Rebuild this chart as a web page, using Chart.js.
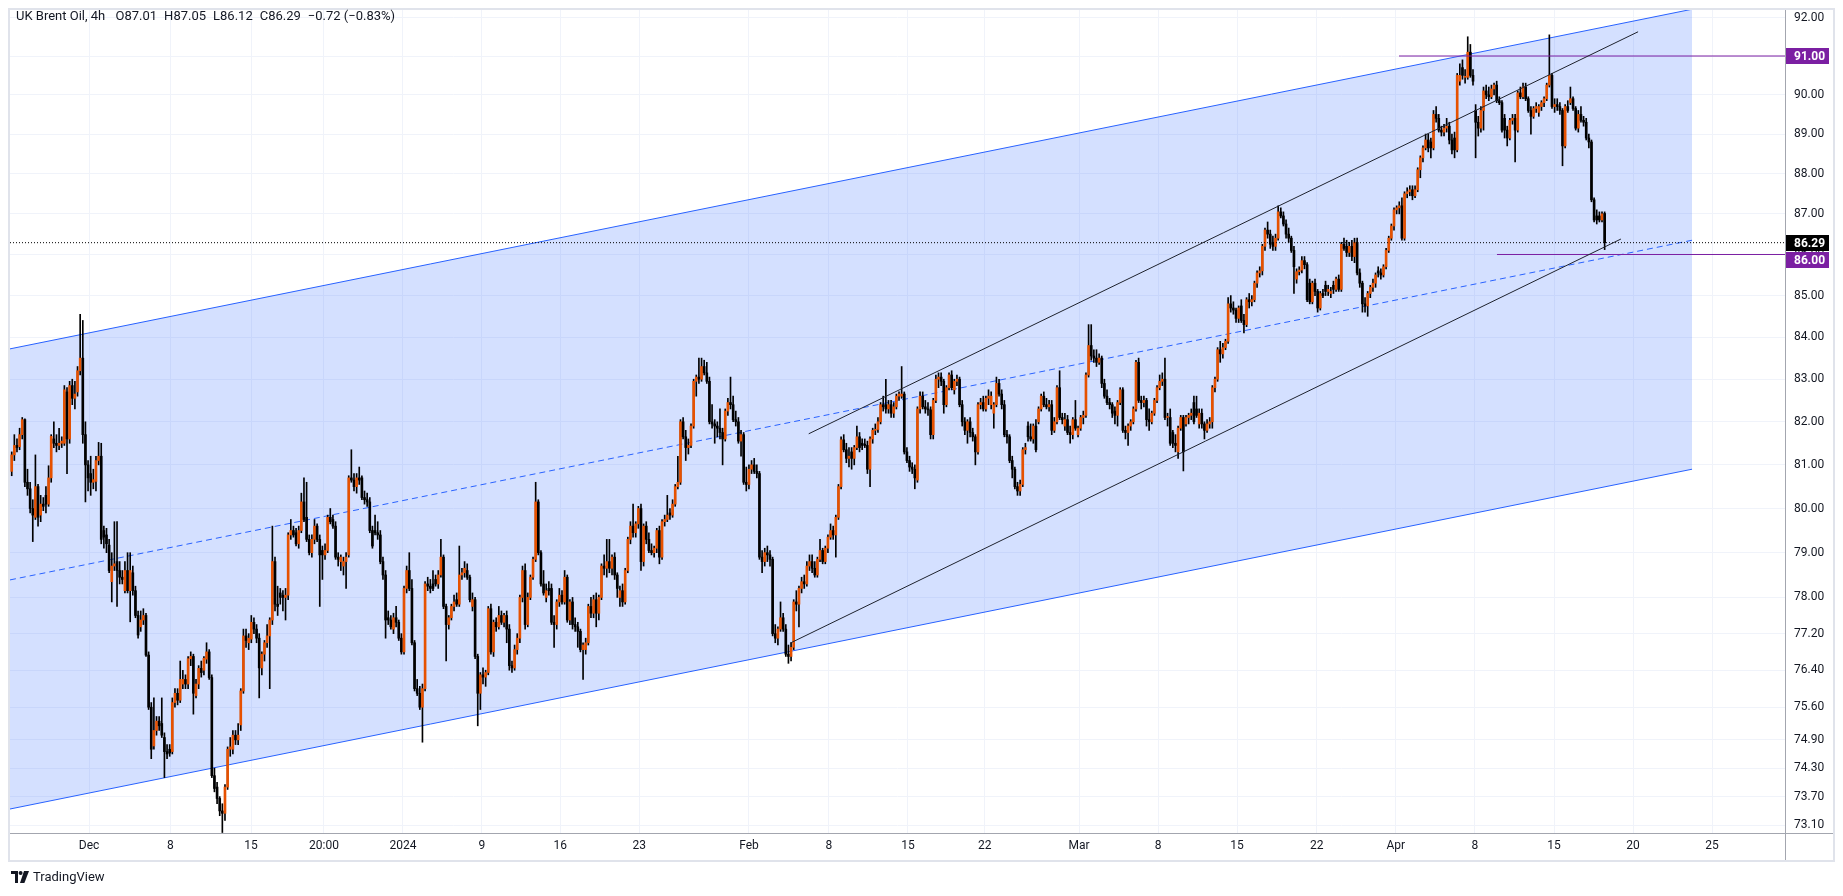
<!DOCTYPE html>
<html>
<head>
<meta charset="utf-8">
<title>UK Brent Oil, 4h</title>
<script src="https://cdn.jsdelivr.net/npm/chart.js@4.4.1/dist/chart.umd.min.js"></script>
<style>
  html, body { margin: 0; padding: 0; background: #fff; }
  #wrap { position: relative; width: 1843px; height: 896px; overflow: hidden; }
  #legend { position: absolute; left: 16px; top: 8px; font: 13px Roboto, sans-serif; color: #131722; white-space: nowrap; }
  #legend span { margin-right: 7px; }
  #brand { position: absolute; left: 11px; top: 869px; font: 13px Roboto, sans-serif; color: #131722; display: flex; align-items: center; gap: 4px; }
</style>
</head>
<body>
<div id="wrap">
  <canvas id="chart" width="1843" height="896"></canvas>
  <div id="legend"><span>UK Brent Oil, 4h</span> <span>O87.01</span><span>H87.05</span><span>L86.12</span><span>C86.29</span><span>−0.72 (−0.83%)</span></div>
  <div id="brand"><svg width="18" height="12" viewBox="0 0 18 12"><path d="M0 0h7v12H4V3H0z" fill="#131722"/><circle cx="9.6" cy="2" r="2" fill="#131722"/><path d="M13 0h5l-4.6 12H9z" fill="#131722"/></svg><span>TradingView</span></div>
</div>
<script>
// 4h bars, [open, high, low, close]
const barsNovDec = [
  [80.85,81.30,80.75,81.23],[81.23,81.70,81.10,81.45],[81.45,81.60,81.30,81.40],[81.42,81.85,81.35,81.70],[81.70,82.10,81.60,82.05],[82.05,82.07,80.50,80.60],
  [80.60,80.90,80.30,80.45],[80.45,80.60,79.90,80.00],[80.00,80.20,79.25,79.85],[79.80,81.23,79.75,80.50],[80.50,80.55,79.60,79.80],[79.85,80.30,79.70,80.10],
  [80.10,80.25,79.95,80.05],[80.30,80.50,79.90,80.10],[80.10,80.98,80.05,80.70],[80.70,81.70,80.60,81.66],[81.60,82.00,81.40,81.50],[81.50,81.70,81.30,81.45],
  [81.45,81.85,81.35,81.50],[81.50,81.65,81.40,81.55],[81.50,82.85,81.45,82.75],[82.70,82.80,80.80,81.60],[81.60,82.95,81.50,82.85],[82.85,83.00,82.40,82.55],
  [82.55,82.95,82.30,82.65],[82.70,83.30,82.60,83.20],[83.20,84.55,83.10,83.50],[83.50,84.40,81.50,81.70],[81.70,82.00,80.15,81.00],[81.00,81.10,80.40,80.70],
  [80.80,81.20,80.30,80.60],[80.60,80.90,80.45,80.66],[80.62,81.20,80.40,81.10],[81.10,81.52,81.00,81.20],[81.20,81.50,79.20,79.30],[79.50,79.60,79.10,79.35],
  [79.40,79.55,79.00,79.20],[79.17,79.30,78.55,78.60],[78.35,79.00,77.90,78.70],[78.70,79.70,78.60,78.75],[78.80,79.70,77.80,78.60],[78.60,78.80,78.30,78.45],
  [78.45,78.60,78.30,78.40],[78.15,78.80,78.10,78.60],[78.60,79.00,78.10,78.15],[78.15,79.00,77.46,78.60],[78.55,78.70,78.05,78.15],[78.15,78.25,77.55,77.60],
  [77.60,77.70,77.10,77.17],[77.35,77.70,77.25,77.50],[77.50,77.75,77.40,77.60],[77.60,77.65,76.70,76.73],[76.73,76.80,75.55,75.60],[75.60,75.70,74.50,74.70],
  [74.77,75.80,74.70,75.10],[75.10,75.40,75.00,75.30],[75.30,75.40,75.10,75.20],[75.25,75.80,74.95,75.00],[74.95,75.05,74.10,74.65],[74.65,74.80,74.50,74.60],
  [74.70,74.80,74.55,74.62],[74.65,75.80,74.60,75.70],[75.70,76.00,75.60,75.90],[75.90,76.00,75.65,75.75],[75.75,76.60,75.70,76.20],[76.10,76.40,76.00,76.20],
  [76.20,76.30,76.00,76.10],[76.10,76.70,76.00,76.65],[76.65,76.80,76.50,76.70],[76.70,76.75,75.45,75.90],[75.85,76.20,75.80,76.10],[76.10,76.50,76.00,76.44],
  [76.44,76.60,76.25,76.35],[76.40,76.70,76.30,76.66],[76.64,77.00,76.55,76.80],[76.80,76.85,76.20,76.24],[76.24,76.30,74.10,74.14],[74.14,74.30,73.80,73.87],
  [73.90,74.00,73.55,73.66],[73.66,73.70,73.30,73.40],[73.40,73.55,72.95,73.35],[73.35,73.95,73.20,73.90],[73.90,74.75,73.85,74.70],[74.70,74.95,74.55,74.75],
  [74.70,75.10,74.60,75.00],[75.00,75.10,74.80,74.90],[74.90,75.25,74.80,75.00],[75.22,76.00,75.10,75.95],[75.95,77.30,75.90,77.15],[77.15,77.30,76.90,77.05],
  [77.00,77.20,76.85,77.10],[77.08,77.60,77.00,77.45],[77.45,77.55,77.20,77.30],[77.30,77.40,77.00,77.10],[77.10,77.20,75.80,76.45],[76.45,76.80,76.30,76.75],
  [76.75,77.05,76.60,77.00],[77.00,77.40,76.90,77.15],[77.15,77.55,76.00,77.50],[77.50,79.60,77.40,78.80],[78.80,78.90,77.70,77.85],[77.85,78.25,77.60,77.80],
  [78.10,78.20,77.85,78.00],[78.05,78.15,77.70,78.00],[78.00,78.20,77.50,78.05],[78.05,79.45,77.95,79.40],[79.40,79.75,79.30,79.50],[79.50,79.60,79.35,79.40],
  [79.45,79.55,79.15,79.20],[79.20,79.60,79.10,79.50],[79.50,80.35,79.45,80.15],[80.15,80.70,79.70,79.75],[79.80,80.60,79.25,79.30],[79.30,79.40,78.95,79.00],
  [79.00,79.40,78.90,79.30],[79.30,79.75,79.20,79.60],[79.60,79.65,79.25,79.30],[79.30,79.40,77.80,78.95],[79.05,79.15,78.40,78.95],[78.95,79.20,78.85,79.05],
  [79.05,79.85,79.00,79.80],[79.80,80.00,79.65,79.70],[79.75,79.85,79.55,79.60],[79.60,79.70,78.85,78.90],[78.90,79.00,78.70,78.85],[78.80,78.95,78.60,78.90],
  [78.70,78.90,78.50,78.80],[78.80,79.00,78.20,78.90],[78.95,80.75,78.90,80.70],[80.70,81.35,80.60,80.65],[80.65,80.80,80.40,80.50],[80.50,80.80,80.35,80.70],
  [80.70,80.95,80.55,80.65],[80.70,80.75,80.20,80.25],[80.25,80.40,80.10,80.20],[80.20,80.35,80.05,80.15],[80.15,80.25,79.45,79.50],[79.50,79.60,79.10,79.15],
  [79.50,79.85,79.40,79.45],[79.45,79.70,79.30,79.40],[79.40,79.50,78.75,78.80],[78.80,78.90,78.40,78.50],[78.50,78.60,77.10,77.50],[77.55,77.70,77.40,77.50],
  [77.50,77.60,77.30,77.35],[77.30,77.65,77.20,77.55],[77.55,77.80,77.35,77.45],[77.45,77.50,77.05,77.10],[77.10,77.20,76.75,76.80]
];
const barsJan = [
  [76.80,78.25,76.75,78.20],[78.20,78.70,78.10,78.60],[78.60,79.00,78.15,78.20],[78.20,78.40,76.95,77.00],[77.00,77.05,75.95,76.00],[76.00,76.20,75.85,75.90],
  [75.90,76.05,75.55,75.60],[75.60,76.10,74.85,76.00],[76.00,78.35,75.95,78.30],[78.30,78.45,78.15,78.25],[78.25,78.40,78.10,78.20],[78.30,78.60,78.15,78.20],
  [78.40,78.50,78.25,78.30],[78.30,78.60,78.20,78.50],[78.50,79.30,78.45,78.90],[78.90,78.95,77.75,77.80],[77.80,77.85,76.60,77.40],[77.40,77.60,77.30,77.55],
  [77.55,77.85,77.50,77.80],[77.80,78.05,77.70,77.90],[77.95,78.10,77.80,77.85],[77.85,79.15,77.80,78.50],[78.50,78.65,78.40,78.55],[78.55,78.80,78.45,78.65],
  [78.60,78.75,78.40,78.45],[78.45,78.50,77.90,77.95],[77.80,78.10,77.70,77.95],[77.95,78.00,76.65,76.70],[76.70,76.75,75.20,75.90],[75.90,76.35,75.55,76.30],
  [76.30,76.45,76.10,76.25],[76.25,76.40,76.05,76.35],[76.35,77.80,76.30,77.75],[77.75,77.85,76.75,76.80],[76.80,77.50,76.70,77.45],[77.45,77.55,77.25,77.35],
  [77.35,77.80,77.30,77.60],[77.60,77.70,77.40,77.45],[77.45,77.65,77.35,77.60],[77.60,77.70,77.00,77.30],[77.30,77.40,76.40,76.50],[76.50,76.60,76.35,76.45],
  [76.45,76.95,76.40,76.85],[76.85,77.20,76.75,77.10],[77.10,78.05,77.00,78.00],[78.00,78.70,77.90,78.60],[78.60,78.75,77.30,77.40],[77.40,78.10,77.35,78.00],
  [78.00,78.50,77.95,78.45],[78.45,78.90,78.40,78.85],[78.85,80.60,78.80,80.15],[80.15,80.20,78.95,79.00],[79.00,79.05,78.25,78.30],[78.30,78.60,78.05,78.10],
  [78.00,78.30,77.90,78.15],[78.20,78.35,78.05,78.15],[78.20,78.30,77.40,77.45],[77.45,77.60,76.90,77.40],[77.40,77.95,77.30,77.90],[77.90,78.20,77.80,78.05],
  [78.05,78.15,77.85,77.90],[77.90,78.60,77.85,78.45],[78.45,78.50,77.45,77.50],[77.50,77.95,77.40,77.90],[77.90,78.00,77.30,77.40],[77.40,77.55,77.25,77.35],
  [77.35,77.45,76.90,77.25],[77.25,77.30,76.80,76.85],[76.85,77.00,76.20,76.95],[76.85,77.10,76.75,77.00],[77.00,77.85,76.95,77.80],[77.80,78.00,77.55,77.65],
  [77.65,78.05,77.55,77.95],[77.95,78.10,77.35,77.65],[77.65,78.05,77.50,78.00],[78.00,78.75,77.95,78.70],[78.70,78.95,78.50,78.65],[78.65,79.30,78.45,78.80],
  [78.80,79.30,78.55,78.65],[78.65,78.95,78.50,78.90],[78.90,79.00,78.40,78.50],[78.50,78.55,78.00,78.20],[78.00,78.25,77.80,78.15],[78.15,78.30,77.80,77.90],
  [77.90,78.65,77.85,78.60],[78.60,79.35,78.55,79.30],[79.30,79.70,79.20,79.60],[79.60,80.10,79.35,79.45],[79.45,79.70,79.35,79.65],[79.65,80.05,79.55,80.00],
  [80.00,80.10,78.60,78.80],[78.80,79.65,78.70,79.60],[79.60,79.70,79.20,79.30],[79.30,79.45,79.00,79.05],[79.05,79.20,78.95,79.00],[79.00,79.15,78.90,79.10],
  [79.10,79.55,79.00,79.50],[79.50,79.60,78.75,78.90],[78.90,79.75,78.85,79.70],[79.70,79.85,79.60,79.75],[79.75,80.30,79.70,79.85],[79.90,80.00,79.75,79.85],
  [79.85,80.20,79.80,80.10],[80.10,80.55,80.05,80.50],[80.50,81.20,80.45,80.60],[80.60,82.05,80.55,82.00],[82.00,82.10,81.60,81.65],[81.65,81.80,81.10,81.40],
  [81.40,81.60,81.25,81.45],[81.45,81.95,81.40,81.90],[81.90,83.00,81.85,82.95],[82.95,83.10,82.60,83.05],[83.05,83.50,82.90,83.00],[83.00,83.50,82.95,83.30],
  [83.30,83.45,83.10,83.15],[83.15,83.40,82.90,82.95],[82.95,83.05,81.95,82.00],[82.00,82.40,81.85,81.95],[81.95,82.05,81.50,81.90],[81.90,82.00,81.65,81.85],
  [81.85,82.30,81.60,81.75],[81.75,81.85,81.00,81.60],[81.60,82.30,81.55,82.25],[82.25,82.55,82.15,82.45],[82.45,83.05,82.30,82.40],[82.40,82.60,82.00,82.05],
  [82.05,82.25,81.90,82.00],[82.00,82.10,81.50,81.55],[81.55,81.80,81.20,81.70],[81.70,81.75,80.55,80.60],[80.60,80.95,80.40,80.55]
];
const barsFeb = [
  [80.55,81.00,80.45,80.90],[80.90,81.10,80.80,81.00],[81.00,81.15,80.80,80.85],[80.85,81.00,80.70,80.80],[80.80,80.85,78.85,78.90],[78.90,79.05,78.55,78.80],
  [78.80,79.10,78.70,79.00],[79.00,79.15,78.80,78.95],[78.95,79.05,78.70,78.85],[78.85,78.90,77.15,77.20],[77.20,77.40,77.00,77.10],[77.10,77.35,76.95,77.30],
  [77.30,77.90,77.25,77.55],[77.55,77.65,77.25,77.30],[77.30,77.40,76.70,76.75],[76.75,76.95,76.55,76.70],[76.70,77.00,76.60,76.90],[76.90,77.95,76.85,77.90],
  [77.90,78.15,77.70,77.85],[77.85,78.25,77.35,78.20],[78.20,78.45,78.10,78.35],[78.35,78.50,78.20,78.30],[78.30,78.80,78.25,78.70],[78.70,78.95,78.60,78.80],
  [78.80,78.95,78.55,78.65],[78.65,78.80,78.45,78.50],[78.50,78.90,78.45,78.85],[78.85,79.30,78.80,79.05],[79.05,79.10,78.75,78.80],[78.80,79.15,78.75,79.10],
  [79.10,79.40,79.00,79.35],[79.35,79.65,79.30,79.50],[79.50,79.60,79.30,79.40],[79.40,79.85,78.90,79.80],[79.80,80.55,79.75,80.50],[80.50,81.65,80.45,81.58],
  [81.58,81.70,81.30,81.35],[81.35,81.50,81.05,81.15],[81.15,81.40,80.95,81.20],[81.30,81.40,80.90,81.15],[81.15,81.45,81.00,81.40],[81.40,81.90,81.35,81.65],
  [81.65,81.75,81.30,81.40],[81.50,81.60,81.35,81.45],[81.48,81.60,81.40,81.45],[81.45,81.55,80.80,80.90],[80.90,81.65,80.50,81.60],[81.60,81.85,81.50,81.80],
  [81.80,81.95,81.70,81.82],[81.82,82.10,81.75,82.00],[82.00,82.45,81.95,82.40],[82.40,82.60,82.25,82.35],[82.40,83.00,82.20,82.30],[82.30,82.50,82.20,82.40],
  [82.40,82.50,82.10,82.20],[82.20,82.45,82.10,82.35],[82.35,82.65,82.30,82.60],[82.60,82.70,82.50,82.65],[82.60,83.30,82.55,82.65],[82.65,82.70,81.25,81.30],
  [81.30,81.40,81.05,81.10],[81.10,81.20,80.85,80.95],[80.95,81.05,80.80,80.90],[80.90,81.00,80.45,80.70],[80.65,82.35,80.60,82.30],[82.30,82.70,82.20,82.60],
  [82.60,82.70,82.30,82.35],[82.35,82.50,82.20,82.30],[82.30,82.45,82.15,82.28],[82.28,82.35,81.60,81.70],[81.70,82.55,81.60,82.50],[82.50,83.10,82.45,83.00],
  [83.00,83.15,82.80,83.05],[83.05,83.15,82.85,82.95],[82.95,83.00,82.20,82.40],[82.40,82.85,82.35,82.80],[82.80,83.15,82.75,83.10],[83.10,83.20,82.75,82.80],
  [82.75,83.00,82.65,82.95],[82.95,83.10,82.85,83.00],[83.00,83.05,82.35,82.40],[82.40,82.50,81.90,82.00],[82.00,82.10,81.70,81.80],[81.80,82.05,81.50,82.00],
  [82.00,82.10,81.65,81.75],[81.75,81.85,81.55,81.65],[81.65,81.70,81.00,81.30],[81.30,82.45,81.25,82.40],[82.40,82.55,82.30,82.45],[82.45,82.60,82.25,82.30],
  [82.30,82.60,82.25,82.55],[82.55,82.75,82.40,82.60],[82.40,82.70,82.30,82.60],[82.20,82.45,81.85,82.40],[82.40,83.05,82.35,82.90],[82.90,83.00,82.60,82.65],
  [82.65,82.75,82.30,82.40],[82.40,82.50,81.65,81.70],[81.70,81.80,81.50,81.65],[81.65,81.70,81.05,81.10],[81.10,81.20,80.70,80.90],[80.90,80.95,80.45,80.50],
  [80.50,80.60,80.30,80.40],[80.40,80.65,80.30,80.55],[80.55,81.40,80.50,81.35],[81.35,81.50,81.25,81.40],[81.90,82.00,81.55,81.65],[81.65,81.95,81.55,81.60],
  [81.60,81.95,81.50,81.90],[81.90,82.05,81.30,81.35],[82.00,82.35,81.95,82.30],[82.30,82.65,82.25,82.60],[82.60,82.70,82.35,82.40],[82.40,82.55,82.30,82.35],
  [82.35,82.50,82.25,82.40],[82.40,82.50,81.70,81.80],[81.80,82.10,81.75,82.00],[82.00,82.85,81.95,82.80],[82.80,83.20,82.05,82.10],[82.10,82.20,81.95,82.05],
  [81.90,82.20,81.80,82.05],[82.05,82.15,81.70,81.75],[81.75,81.90,81.50,81.70],[81.70,82.10,81.60,82.05],[82.05,82.50,81.80,81.85],[81.70,81.90,81.65,81.85]
];
const barsMar = [
  [81.85,82.15,81.80,82.10],[82.10,82.25,81.95,82.15],[82.15,83.15,82.10,83.10],[83.10,84.30,83.05,83.80],[83.80,84.30,83.45,83.55],[83.55,83.70,83.40,83.50],
  [83.50,83.70,83.30,83.40],[83.40,83.60,83.35,83.50],[83.50,83.55,82.80,82.90],[82.90,83.00,82.55,82.60],[82.60,82.75,82.40,82.45],[82.45,82.55,82.30,82.40],
  [82.40,82.45,82.10,82.20],[82.25,82.35,81.95,82.15],[82.15,82.50,81.90,82.45],[82.45,82.80,82.40,82.75],[82.75,82.80,81.75,81.80],[81.80,81.90,81.60,81.75],
  [81.75,81.95,81.45,81.90],[81.90,82.05,81.80,82.00],[82.00,82.35,81.95,82.30],[82.30,83.45,82.25,83.40],[83.40,83.50,82.45,82.50],[82.50,82.60,82.30,82.45],
  [82.45,82.60,82.35,82.50],[82.50,82.55,81.90,82.05],[82.05,82.30,81.80,82.00],[82.00,82.25,81.95,82.20],[82.20,82.55,82.15,82.50],[82.50,82.85,82.45,82.80],
  [82.80,83.10,82.75,82.95],[82.95,83.15,82.85,83.00],[83.00,83.50,82.05,82.10],[82.10,82.20,81.90,82.10],[82.10,82.30,81.45,81.50],[81.75,81.80,81.40,81.50],
  [81.50,81.70,81.30,81.45],[81.30,81.90,81.15,81.85],[81.85,82.15,81.80,82.10],[82.10,82.15,80.86,81.30],[81.95,82.15,81.90,82.10],[82.10,82.20,81.95,82.15],
  [82.15,82.30,82.05,82.20],[82.45,82.60,81.95,82.00],[82.30,82.60,82.10,82.15],[81.95,82.30,81.85,82.20],[82.20,82.30,81.85,81.95],[81.95,82.00,81.60,81.80],
  [81.80,82.05,81.75,81.95],[81.95,82.10,81.85,82.00],[82.00,82.85,81.85,82.80],[82.80,83.05,82.70,83.00],[83.00,83.75,82.95,83.70],[83.70,83.90,83.40,83.60],
  [83.60,83.85,83.50,83.75],[83.75,83.95,83.70,83.90],[83.90,84.95,83.85,84.80],[84.80,85.00,84.60,84.70],[84.70,84.85,84.55,84.65],[84.65,84.70,84.35,84.45],
  [84.45,84.75,84.35,84.70],[84.75,84.90,84.35,84.40],[84.40,84.55,84.10,84.30],[84.30,84.95,84.25,84.90],[84.90,85.05,84.70,84.85],[84.85,85.00,84.75,84.90],
  [84.90,85.35,84.85,85.30],[85.30,85.60,85.20,85.55],[85.55,85.70,85.45,85.60],[85.60,86.25,85.50,86.20],[86.20,86.65,86.10,86.60],[86.60,86.80,86.40,86.50],
  [86.50,86.60,86.15,86.25],[86.30,86.45,86.10,86.20],[86.20,86.50,86.10,86.40],[86.40,87.20,86.35,87.05],[87.05,87.15,86.90,86.95],[86.95,87.05,86.70,86.75],
  [86.75,86.85,86.40,86.50],[86.50,86.65,86.30,86.40],[86.40,86.45,86.05,86.10],[86.10,86.20,85.05,85.70],[85.40,85.65,85.30,85.58],[85.58,85.70,85.50,85.62],
  [85.62,85.95,85.55,85.85],[85.85,85.95,85.65,85.75],[85.75,85.80,84.85,84.90],[85.30,85.40,84.80,84.85],[84.85,85.35,84.80,85.30],[85.30,85.40,85.00,85.10],
  [85.10,85.15,84.60,84.70],[84.70,85.10,84.65,85.05],[85.05,85.15,84.95,85.00],[85.25,85.35,85.00,85.10],[85.10,85.25,85.00,85.15],[85.05,85.20,84.95,85.10],
  [85.25,85.35,85.05,85.15],[85.15,85.45,85.10,85.40],[85.40,85.50,85.10,85.15],[85.15,86.30,85.10,86.25],[86.25,86.40,86.10,86.15],[86.20,86.35,85.95,86.05],
  [86.05,86.30,85.95,86.20],[86.20,86.35,85.85,85.95],[85.95,86.40,85.80,86.30],[86.30,86.40,85.50,85.55],[85.55,85.65,85.20,85.30],[85.30,85.35,84.60,84.80],
  [84.80,84.95,84.60,84.75],[84.75,85.10,84.50,85.05],[85.05,85.25,84.95,85.20],[85.20,85.40,85.10,85.30],[85.30,85.55,85.20,85.50],[85.60,85.70,85.45,85.55],
  [85.55,85.65,85.40,85.50],[85.50,85.75,85.45,85.70],[85.70,86.15,85.65,86.10],[86.10,86.45,86.05,86.40],[86.40,86.75,86.35,86.70],[86.70,87.15,86.60,87.10]
];
const barsApr = [
  [87.10,87.20,87.00,87.15],[87.15,87.30,87.00,87.20],[87.20,87.40,86.35,86.40],[86.40,87.55,86.35,87.50],[87.50,87.65,87.40,87.55],[87.55,87.70,87.45,87.60],
  [87.60,87.70,87.35,87.45],[87.45,87.70,87.40,87.60],[87.60,88.15,87.55,88.10],[88.10,88.45,87.90,88.40],[88.40,88.70,88.30,88.65],[88.65,89.00,88.60,88.85],
  [88.85,89.00,88.55,88.65],[88.80,88.90,88.40,88.65],[88.65,89.60,88.60,89.50],[89.50,89.70,89.30,89.40],[89.40,89.50,89.05,89.10],[89.10,89.20,88.95,89.05],
  [89.05,89.25,88.95,89.15],[89.15,89.40,89.05,89.20],[89.20,89.30,88.75,88.85],[88.85,89.00,88.50,88.60],[88.90,89.05,88.40,88.60],[88.60,90.55,88.55,90.50],
  [90.35,90.80,90.25,90.50],[90.70,90.90,90.40,90.50],[90.45,90.65,90.30,90.45],[90.45,91.50,90.40,91.10],[91.10,91.30,90.45,90.50],[90.50,90.65,90.25,90.35],
  [89.60,89.75,88.40,89.30],[89.30,89.45,88.95,89.15],[89.15,89.70,89.05,89.60],[89.60,90.20,89.10,90.10],[90.10,90.25,89.90,90.00],[90.00,90.20,89.85,89.95],
  [89.95,90.25,89.90,90.15],[90.15,90.30,90.00,90.25],[90.25,90.35,89.80,89.85],[89.85,89.95,89.75,89.80],[89.80,89.85,89.05,89.10],[89.40,89.50,88.90,89.10],
  [89.10,89.20,88.70,88.90],[88.90,89.40,88.85,89.35],[89.35,89.50,89.25,89.40],[89.40,89.50,88.30,89.10],[89.10,90.10,89.05,90.05],[90.05,90.20,89.90,89.95],
  [89.95,90.30,89.90,90.20],[90.20,90.30,89.85,89.90],[89.90,89.95,89.55,89.60],[89.60,89.70,89.00,89.45],[89.45,89.70,89.40,89.65],[89.65,89.80,89.55,89.70],
  [89.55,89.75,89.45,89.70],[89.70,89.85,89.60,89.80],[89.80,89.95,89.70,89.90],[89.90,90.30,89.85,90.25],[90.25,91.55,90.20,90.50],[90.50,90.55,89.65,89.70],
  [89.70,89.90,89.55,89.75],[89.75,89.90,89.60,89.70],[89.70,89.80,89.50,89.60],[89.60,89.65,88.20,88.70],[88.70,89.75,88.65,89.70],[89.70,89.85,89.55,89.60],
  [89.80,90.20,89.75,89.90],[89.90,89.95,89.60,89.65],[89.65,89.70,89.10,89.15],[89.15,89.60,89.05,89.50],[89.50,89.70,89.30,89.35],[89.35,89.45,89.20,89.30],
  [89.30,89.40,88.85,88.90],[88.90,89.00,88.65,88.80],[88.80,88.85,87.30,87.35],[87.35,87.40,86.80,86.85],[86.95,87.10,86.75,86.85],[86.95,87.05,86.80,86.85],
  [86.85,87.05,86.80,87.00],[87.01,87.05,86.12,86.29]
];

// time axis: bar index of each label
const tickPos  = [29.4, 60.3, 90.9, 118.6, 148.6, 178.6, 208.3, 238.3, 280, 310.4, 340.4, 369.6, 405.4, 435.4, 465.4, 495.7, 525.7, 555.7, 585.8, 615.8, 645.8];
const tickText = ['Dec', '8', '15', '20:00', '2024', '9', '16', '23', 'Feb', '8', '15', '22', 'Mar', '8', '15', '22', 'Apr', '8', '15', '20', '25'];
const priceTicks = [92, 91, 90, 89, 88, 87, 86, 85, 84, 83, 82, 81, 80, 79, 78, 77.2, 76.4, 75.6, 74.9, 74.3, 73.7, 73.1];

// drawings, in bar index / price
const channelX     = [-0.65, 638.2];
const channelUpper = [83.72, 92.22];
const channelLower = [73.44, 80.90];
const channelMid   = [78.39, 86.35];
const trendUpX = [302.7, 617.7], trendUpY = [81.72, 91.63];
const trendLoX = [295.6, 611.2], trendLoY = [76.99, 86.38];
const level91 = 91.00, level91From = 526.9;
const level86 = 86.00, level86From = 564.1;
const lastClose = 86.29;

const xMin = -0.65, xMax = 673.5;
const yMin = 72.94, yMax = 92.2;

const UP = '#e65100', DOWN = '#000000', PURPLE = '#7b1fa2', BLUE = '#2962ff';
const FONT = 'Roboto, sans-serif';

const bars = [].concat(barsNovDec, barsJan, barsFeb, barsMar, barsApr);
const wicks  = bars.map((b, i) => ({ x: i, y: [Math.min(b[2], b[0], b[3]), Math.max(b[1], b[0], b[3])] }));
const bodies = bars.map((b, i) => ({ x: i, y: [b[0], b[3]] }));
const pts = (xs, ys) => xs.map((x, k) => ({ x: x, y: ys[k] }));
const lineSet = (data, color, extra) => Object.assign({
  type: 'line', data: data, borderColor: color, borderWidth: 1,
  pointRadius: 0, fill: false, tension: 0
}, extra || {});

const overlay = {
  id: 'overlay',
  afterDraw(chart) {
    const { ctx, chartArea: a } = chart;
    const xs = chart.scales.x, ys = chart.scales.y;
    const right = ys.right, bottom = xs.bottom;
    ctx.save();
    ctx.strokeStyle = '#e0e3eb';
    ctx.lineWidth = 2;
    ctx.strokeRect(a.left - 1, a.top - 1, right - a.left + 2, bottom - a.top + 2);
    ctx.strokeStyle = '#a3a6af';
    ctx.lineWidth = 1;
    ctx.beginPath();
    ctx.moveTo(a.right + 0.5, a.bottom);
    ctx.lineTo(a.right + 0.5, bottom);
    ctx.moveTo(a.right, a.bottom + 0.5);
    ctx.lineTo(right, a.bottom + 0.5);
    ctx.stroke();

    const tag = (val, yc, bg) => {
      ctx.fillStyle = bg;
      ctx.fillRect(a.right + 1, Math.round(yc) - 8, 43, 16);
      ctx.fillStyle = '#ffffff';
      ctx.font = 'bold 12px ' + FONT;
      ctx.textAlign = 'left';
      ctx.textBaseline = 'middle';
      ctx.fillText(val.toFixed(2), a.right + 9, Math.round(yc) + 0.5);
    };
    const y91 = ys.getPixelForValue(level91);
    const yLast = ys.getPixelForValue(lastClose);
    const y86 = Math.max(ys.getPixelForValue(level86), yLast + 17);
    tag(level91, y91, PURPLE);
    tag(lastClose, yLast, '#000000');
    tag(level86, y86, PURPLE);
    ctx.restore();
  }
};

new Chart(document.getElementById('chart'), {
  type: 'bar',
  data: {
    datasets: [
      { type: 'bar', data: bodies, grouped: false, barThickness: 2, minBarLength: 1, borderWidth: 0,
        backgroundColor: c => { const b = bars[c.dataIndex]; return b && b[3] >= b[0] ? UP : DOWN; }, order: 1 },
      { type: 'bar', data: wicks, grouped: false, barThickness: 1, borderWidth: 0, backgroundColor: '#000000', order: 2 },
      lineSet(pts(channelX, channelUpper), BLUE, { fill: '+1', backgroundColor: 'rgba(41,98,255,0.2)', order: 5 }),
      lineSet(pts(channelX, channelLower), BLUE, { order: 5 }),
      lineSet(pts(channelX, channelMid), BLUE, { borderDash: [6, 4], order: 4 }),
      lineSet(pts(trendUpX, trendUpY), '#1e222d', { order: 0 }),
      lineSet(pts(trendLoX, trendLoY), '#1e222d', { order: 0 }),
      lineSet(pts([level91From, xMax], [level91, level91]), PURPLE, { order: 0 }),
      lineSet(pts([level86From, xMax], [level86, level86]), PURPLE, { order: 0 }),
      lineSet(pts([xMin, xMax], [lastClose, lastClose]), '#000000', { borderDash: [1, 2], order: 0 })
    ]
  },
  options: {
    responsive: false,
    animation: false,
    devicePixelRatio: 1,
    layout: { padding: { left: 10, top: 10, right: 10, bottom: 36 } },
    plugins: { legend: { display: false }, tooltip: { enabled: false } },
    scales: {
      x: {
        type: 'linear', min: xMin, max: xMax, offset: false,
        grid: { color: '#f0f3fa', drawTicks: false, offset: false },
        border: { color: '#a3a6af' },
        afterBuildTicks: s => { s.ticks = tickPos.map(v => ({ value: v })); },
        afterFit: s => { s.height = 27; s.paddingLeft = 0; s.paddingRight = 0; },
        ticks: { autoSkip: false, maxRotation: 0, padding: 6, color: '#131722',
                 font: { family: FONT, size: 12 }, callback: (v, i) => tickText[i] }
      },
      y: {
        type: 'logarithmic', position: 'right', min: yMin, max: yMax,
        grid: { color: '#f0f3fa', drawTicks: false },
        border: { color: '#a3a6af' },
        afterBuildTicks: s => { s.ticks = priceTicks.map(v => ({ value: v })); },
        afterFit: s => { s.width = 48; s.paddingTop = 0; s.paddingBottom = 0; },
        ticks: { autoSkip: false, padding: 9, color: '#131722',
                 font: { family: FONT, size: 12 }, callback: v => Number(v).toFixed(2) }
      }
    }
  },
  plugins: [overlay]
});
</script>
</body>
</html>
